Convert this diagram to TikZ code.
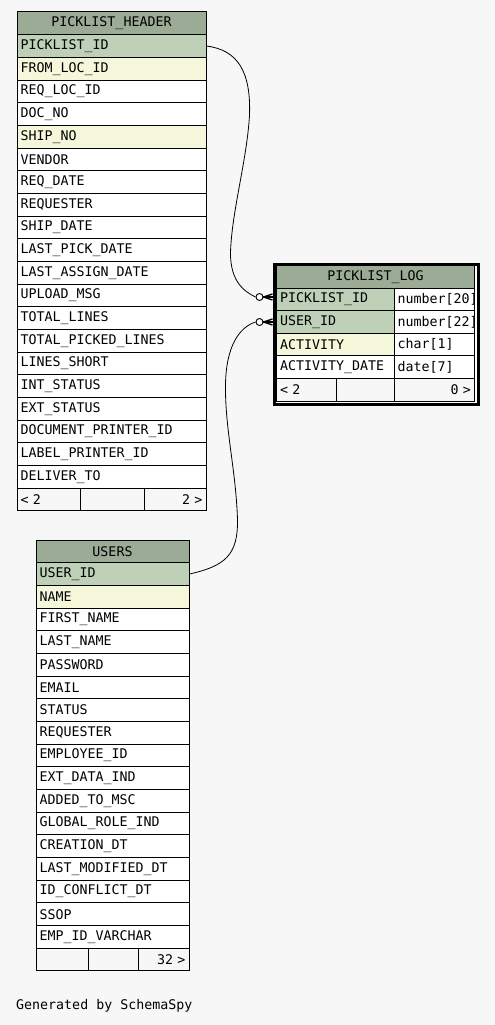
\documentclass[tikz,border=0pt]{standalone}
\usepackage{fontspec}
\setmainfont{DejaVu Sans Mono}
\definecolor{pagebg}{HTML}{F7F7F7}
\definecolor{hdr}{HTML}{9BAB96}
\definecolor{pk}{HTML}{BED1B8}
\definecolor{ix}{HTML}{F4F7DA}
\definecolor{wt}{HTML}{FFFFFF}
\tikzset{
  cell/.style={draw=black, line width=1pt, anchor=north west, inner ysep=0pt, inner xsep=3.5pt,
    minimum height=22.68pt, font=\fontsize{13.3}{15}\selectfont},
  hrow/.style={cell, minimum width=189pt, text width=182pt, align=left},
  hhead/.style={hrow, align=center, fill=hdr},
  urow/.style={cell, minimum width=153pt, text width=146pt, align=left},
  uhead/.style={urow, align=center, fill=hdr},
  lrow/.style={cell, minimum height=22.6pt, minimum width=117.5pt, text width=110.5pt, align=left},
  trow/.style={cell, minimum height=22.6pt, minimum width=80.5pt, text width=73.5pt, align=left, fill=white},
  lhead/.style={cell, minimum height=22.6pt, minimum width=198pt, text width=191pt, align=center, fill=hdr},
  foot/.style={cell, fill=pagebg},
  conn/.style={draw=black, line width=0.8pt},
  circ/.style={circle, draw=black, fill=white, minimum size=7pt, inner sep=0pt, line width=0.9pt},
  crow/.style={draw=black, line width=1.3pt},
  frame/.style={draw=black, line width=3pt, fill=white, anchor=north west, inner sep=0pt}
}
\begin{document}
\begin{tikzpicture}[x=1pt, y=-1pt]
\fill[pagebg] (0,0) rectangle (495,1025);
\useasboundingbox (0,0) rectangle (495,1025);

% PICKLIST_HEADER
\node[hhead] (h0) at (16.5,11.5) {PICKLIST\_HEADER};
\foreach \n/\c [count=\i] in {PICKLIST\_ID/pk, FROM\_LOC\_ID/ix, REQ\_LOC\_ID/wt, DOC\_NO/wt, SHIP\_NO/ix,
  VENDOR/wt, REQ\_DATE/wt, REQUESTER/wt, SHIP\_DATE/wt, LAST\_PICK\_DATE/wt, LAST\_ASSIGN\_DATE/wt,
  UPLOAD\_MSG/wt, TOTAL\_LINES/wt, TOTAL\_PICKED\_LINES/wt, LINES\_SHORT/wt, INT\_STATUS/wt,
  EXT\_STATUS/wt, DOCUMENT\_PRINTER\_ID/wt, LABEL\_PRINTER\_ID/wt, DELIVER\_TO/wt}
  \node[hrow, fill=\c] (h\i) at (16.5,{11.5+\i*22.68}) {\n};
\node[foot, minimum width=63.5pt, text width=56.5pt, align=left] (hf1) at (16.5,{11.5+21*22.68}) {<~2};
\node[foot, minimum width=63.5pt, text width=56.5pt, align=left] (hf2) at (80,{11.5+21*22.68}) {};
\node[foot, minimum width=62pt, text width=55pt, align=right] (hf3) at (143.5,{11.5+21*22.68}) {2~>};

% USERS
\node[uhead] (u0) at (35.5,539.5) {USERS};
\foreach \n/\c [count=\i] in {USER\_ID/pk, NAME/ix, FIRST\_NAME/wt, LAST\_NAME/wt, PASSWORD/wt, EMAIL/wt,
  STATUS/wt, REQUESTER/wt, EMPLOYEE\_ID/wt, EXT\_DATA\_IND/wt, ADDED\_TO\_MSC/wt, GLOBAL\_ROLE\_IND/wt,
  CREATION\_DT/wt, LAST\_MODIFIED\_DT/wt, ID\_CONFLICT\_DT/wt, SSOP/wt, EMP\_ID\_VARCHAR/wt}
  \node[urow, fill=\c] (u\i) at (35.5,{539.5+\i*22.68}) {\n};
\node[foot, minimum width=52pt, text width=45pt, align=left] (uf1) at (35.5,{539.5+18*22.68}) {};
\node[foot, minimum width=50pt, text width=43pt, align=left] (uf2) at (87.5,{539.5+18*22.68}) {};
\node[foot, minimum width=51pt, text width=44pt, align=right] (uf3) at (137.5,{539.5+18*22.68}) {32~>};

% PICKLIST_LOG
\node[frame, minimum width=204pt, minimum height=140.4pt] (logframe) at (272.5,262.8) {};
\node[lhead] (l0) at (276,265) {PICKLIST\_LOG};
\foreach \n/\c/\t [count=\i] in {PICKLIST\_ID/pk/number[20], USER\_ID/pk/number[22], ACTIVITY/ix/char[1], ACTIVITY\_DATE/wt/date[7]}
{
  \node[lrow, fill=\c] (l\i) at (276,{265+\i*22.6}) {\n};
  \node[trow] (t\i) at (393.5,{265+\i*22.6}) {\t};
}
\node[foot, minimum height=22.6pt, minimum width=59.5pt, text width=52.5pt, align=left] (lf1) at (276,{265+5*22.6}) {<~2};
\node[foot, minimum height=22.6pt, minimum width=58pt, text width=51pt, align=left] (lf2) at (335.5,{265+5*22.6}) {};
\node[foot, minimum height=22.6pt, minimum width=80.5pt, text width=73.5pt, align=right] (lf3) at (393.5,{265+5*22.6}) {0~>};

% connectors
\node[circ] (c1) at (259.5,297) {};
\node[circ] (c2) at (259.5,322) {};
\draw[conn] (h1.east) .. controls (238,50) and (251,72) .. (249.5,115)
  .. controls (247,160) and (232,210) .. (230.5,252)
  .. controls (230,282) and (245,292) .. (c1.west);
\draw[conn] (u1.east) .. controls (225,566) and (238,555) .. (237.5,520)
  .. controls (236,470) and (225,430) .. (225.5,385)
  .. controls (226,345) and (240,327) .. (c2.west);
\foreach \c in {c1,c2} {
  \draw[crow] (\c.east) -- (\c -| logframe.west);
  \draw[crow] (\c.east) -- ([yshift=3pt]\c -| logframe.west);
  \draw[crow] (\c.east) -- ([yshift=-3pt]\c -| logframe.west);
}

\node[anchor=west, inner sep=0pt, font=\fontsize{13.3}{15}\selectfont] (gen) at (16,1006) {Generated by SchemaSpy};
\end{tikzpicture}
\end{document}
